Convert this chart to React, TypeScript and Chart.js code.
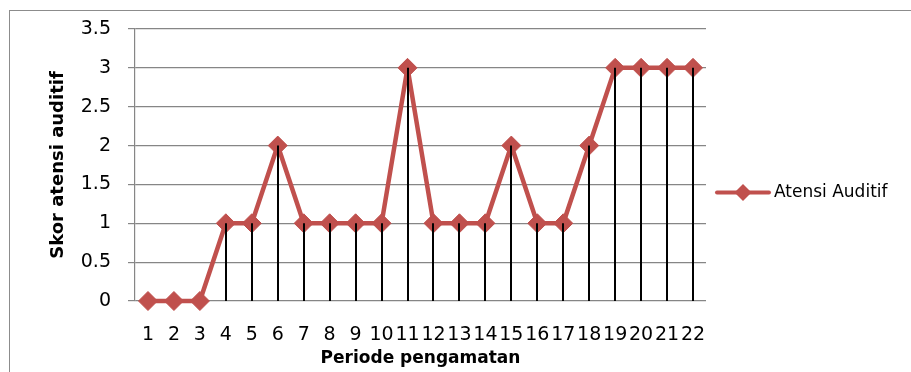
import React, { useEffect, useRef } from "react";
import { Chart, registerables } from "chart.js";

Chart.register(...registerables);

const periods = ["1","2","3","4","5","6","7","8","9","10","11","12","13","14","15","16","17","18","19","20","21","22"];
const scores = [0, 0, 0, 1, 1, 2, 1, 1, 1, 1, 3, 1, 1, 1, 2, 1, 1, 2, 3, 3, 3, 3];
const seriesName = "Atensi Auditif";
const yTitle = "Skor atensi auditif";
const xTitle = "Periode pengamatan";
const yMin = 0;
const yMax = 3.5;
const yStep = 0.5;

const RED = "#C0504D";
const FONT = "'DejaVu Sans', sans-serif";

const framePlugin = {
  id: "frame",
  beforeDraw(chart: any) {
    const ctx = chart.ctx;
    ctx.save();
    ctx.fillStyle = "#ffffff";
    ctx.fillRect(0, 0, chart.width, chart.height);
    ctx.strokeStyle = "#8c8c8c";
    ctx.lineWidth = 1;
    ctx.strokeRect(9.5, 10.5, 1200, 1200);
    ctx.restore();
  },
};

const dropLinesPlugin = {
  id: "dropLines",
  afterDatasetsDraw(chart: any) {
    const ctx = chart.ctx;
    const meta = chart.getDatasetMeta(0);
    const y0 = chart.scales.y.getPixelForValue(0);
    ctx.save();
    ctx.strokeStyle = "#000000";
    ctx.lineWidth = 2;
    meta.data.forEach((pt: any) => {
      const x = Math.round(pt.x);
      ctx.beginPath();
      ctx.moveTo(x, pt.y);
      ctx.lineTo(x, y0);
      ctx.stroke();
    });
    ctx.restore();
  },
};

const legendPlugin = {
  id: "customLegend",
  afterDraw(chart: any) {
    const ctx = chart.ctx;
    const y = 192.5;
    const x1 = 717;
    const x2 = 769;
    ctx.save();
    ctx.strokeStyle = RED;
    ctx.lineWidth = 4;
    ctx.lineCap = "round";
    ctx.beginPath();
    ctx.moveTo(x1, y);
    ctx.lineTo(x2, y);
    ctx.stroke();
    const cx = (x1 + x2) / 2;
    const r = 8.5;
    ctx.fillStyle = RED;
    ctx.beginPath();
    ctx.moveTo(cx, y - r);
    ctx.lineTo(cx + r, y);
    ctx.lineTo(cx, y + r);
    ctx.lineTo(cx - r, y);
    ctx.closePath();
    ctx.fill();
    ctx.fillStyle = "#000000";
    ctx.font = `17px ${FONT}`;
    ctx.textBaseline = "middle";
    ctx.textAlign = "left";
    ctx.fillText(seriesName, 774, y);
    ctx.restore();
  },
};

export default function App() {
  const ref = useRef<HTMLCanvasElement | null>(null);

  useEffect(() => {
    document.body.style.margin = "0";
    const canvas = ref.current;
    if (!canvas) return;
    const chart = new Chart(canvas, {
      type: "line",
      data: {
        labels: periods,
        datasets: [
          {
            label: seriesName,
            data: scores,
            borderColor: RED,
            backgroundColor: RED,
            borderWidth: 4.5,
            borderJoinStyle: "round",
            borderCapStyle: "round",
            pointStyle: "rectRot",
            pointRadius: 9.5,
            pointBorderWidth: 1,
            pointBackgroundColor: RED,
            pointBorderColor: RED,
            tension: 0,
            fill: false,
            clip: false,
          },
        ],
      },
      options: {
        responsive: false,
        animation: false,
        devicePixelRatio: 1,
        layout: { padding: { left: 0, top: 29, right: 205, bottom: 0 } },
        plugins: {
          legend: { display: false },
          tooltip: { enabled: false },
        },
        scales: {
          x: {
            type: "category",
            offset: true,
            grid: { display: false, drawTicks: false },
            border: { display: false },
            ticks: {
              autoSkip: false,
              maxRotation: 0,
              minRotation: 0,
              color: "#000000",
              font: { family: FONT, size: 19 },
              padding: 23,
            },
            title: {
              display: true,
              text: xTitle,
              color: "#000000",
              font: { family: FONT, size: 17, weight: "bold" },
              padding: { top: 0, bottom: 3 },
            },
            afterFit(scale: any) {
              scale.height = 71;
            },
          },
          y: {
            min: yMin,
            max: yMax,
            grid: {
              color: "#868686",
              lineWidth: 1.2,
              tickLength: 7,
              drawTicks: true,
            },
            border: { display: true, color: "#868686", width: 1.2 },
            ticks: {
              stepSize: yStep,
              color: "#000000",
              font: { family: FONT, size: 19 },
              padding: 17,
              callback: (v: any) => String(Number(v)),
            },
            title: {
              display: true,
              text: yTitle,
              color: "#000000",
              font: { family: FONT, size: 18, weight: "bold" },
              padding: { top: 48, bottom: 0 },
            },
            afterFit(scale: any) {
              scale.width = 135;
            },
          },
        },
      },
      plugins: [framePlugin, dropLinesPlugin, legendPlugin],
    });
    return () => chart.destroy();
  }, []);

  return (
    <div style={{ width: 911, height: 372 }}>
      <canvas ref={ref} width={911} height={372} style={{ display: "block" }} />
    </div>
  );
}
